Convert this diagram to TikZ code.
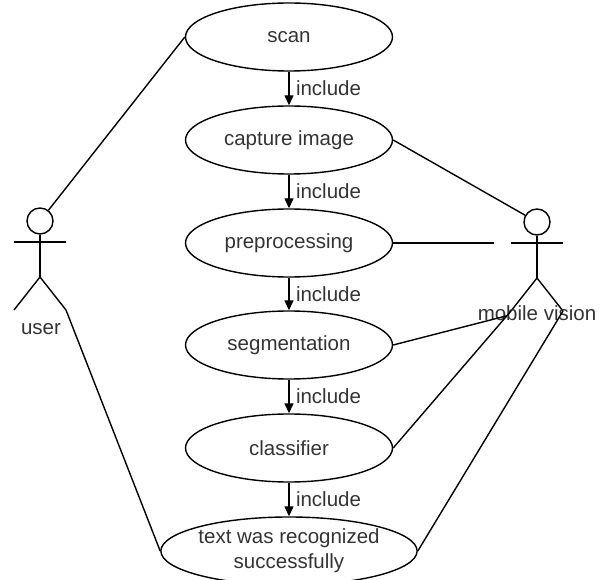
\documentclass[tikz,border=0pt]{standalone}
\usepackage{fontspec}
\setmainfont{Liberation Sans}
\usetikzlibrary{arrows.meta,shapes.geometric}
\definecolor{ucgray}{RGB}{51,51,51}
\tikzset{
  usecase/.style={draw,ellipse,minimum width=207pt,minimum height=68pt,inner sep=0pt,align=center},
  incl/.style={-{Triangle[length=10pt,width=9pt]}},
}
\newcommand{\stickman}[3]{% name, x, y of the head centre
  \node[draw,circle,minimum size=26pt,inner sep=0pt] (#1head) at (#2,#3) {};
  \draw ({#2-26},{#3+21}) -- ({#2+26},{#3+21});
  \draw (#1head.south) -- ({#2},{#3+56}) coordinate (#1hip);
  \coordinate (#1lleg) at ({#2-26},{#3+89});
  \coordinate (#1rleg) at ({#2+26},{#3+89});
  \draw (#1lleg) -- (#1hip) -- (#1rleg);
}

\begin{document}
\begin{tikzpicture}[x=1pt,y=-1pt,line width=1.4pt,font=\fontsize{20.5}{25}\selectfont,text=ucgray]
    \useasboundingbox (0,0) rectangle (603,580);
    % use cases
    \node[usecase] (scan) at (289,37) {scan};
    \node[usecase] (capture) at (289,140) {capture image};
    \node[usecase] (prep) at (289,243) {preprocessing};
    \node[usecase] (seg) at (289,345) {segmentation};
    \node[usecase] (classif) at (289,448) {classifier};
    \node[usecase] (recog) at (289,551) {text was recognized\\successfully};
    % actors
    \stickman{user}{40}{221}
    \stickman{mv}{537}{222}
    \node (userlbl) at (41,329) {user};
    \node (mvlbl) at (537,313) {mobile vision};
    % include chain
    \foreach \a/\b in {scan/capture,capture/prep,prep/seg,seg/classif,classif/recog}
      \draw[incl] (\a) -- (\b) node[midway,right,xshift=3pt] {include};
    % associations
    \coordinate (prepend) at (494,243);
    \coordinate (segend) at (506,316);
    \draw (scan.west) -- (userhead);
    \draw (userrleg) -- (recog.west);
    \draw (capture.east) -- (mvhead);
    \draw (prep.east) -- (prepend);
    \draw (seg.east) -- (segend);
    \draw (classif.east) -- (mvlleg);
    \draw (recog.east) -- (mvrleg);
  \end{tikzpicture}
\end{document}
